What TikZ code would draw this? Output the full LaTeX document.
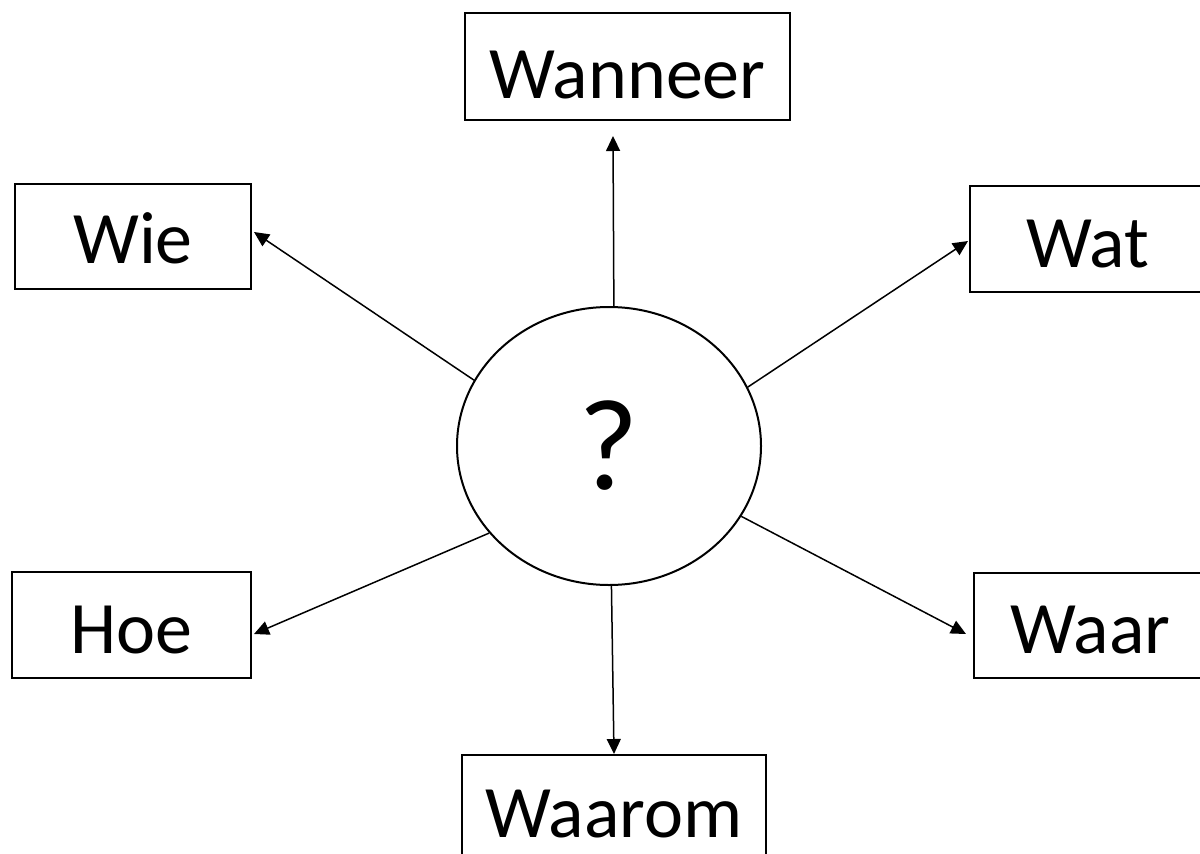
\documentclass[tikz,border=0pt]{standalone}
\usepackage{fontspec}
\setmainfont{Carlito}
\usetikzlibrary{arrows.meta,shapes.geometric}
\tikzset{
  qbox/.style={draw=black, line width=2pt, rectangle, inner sep=0pt, font=\fontsize{74}{74}\selectfont, text depth=0pt},
  hub/.style={draw=black, line width=2pt, ellipse, inner sep=0pt, minimum width=304pt, minimum height=278pt, font=\fontsize{130}{130}\selectfont},
  conn/.style={draw=black, line width=1.5pt, -{Triangle[length=15pt,width=14pt]}}
}
\begin{document}
\begin{tikzpicture}[x=1pt,y=-1pt]
\useasboundingbox (0,0) rectangle (1200,854);
\fill[white] (0,0) rectangle (1200,854);
\clip (0,0) rectangle (1200,854);
\node[hub] (c) at (609,446) {?};
\node[qbox, minimum width=325pt, minimum height=107pt, text height=64pt] (wanneer) at (627.5,66.5) {Wanneer};
\node[qbox, minimum width=236pt, minimum height=105pt, text height=54pt] (wie) at (133,236.5) {Wie};
\node[qbox, minimum width=235pt, minimum height=106pt, text height=57pt] (wat) at (1087.5,239) {Wat};
\node[qbox, minimum width=239pt, minimum height=106pt, text height=57pt] (hoe) at (131.5,625) {Hoe};
\node[qbox, minimum width=233pt, minimum height=105pt, text height=55pt] (waar) at (1090.5,625.5) {Waar};
\node[qbox, minimum width=304pt, minimum height=106pt, text height=58pt] (waarom) at (614,808) {Waarom};
\draw[conn] (c.88.8) -- ([xshift=-14.5pt,yshift=-15pt]wanneer.south);
\draw[conn] (c.154.5) -- ([xshift=2pt,yshift=4.5pt]wie.east);
\draw[conn] (c.23) -- ([xshift=-1pt,yshift=-2pt]wat.west);
\draw[conn] (c.216) -- ([xshift=2pt,yshift=-9pt]hoe.east);
\draw[conn] (c.332) -- ([xshift=-7pt,yshift=-8.5pt]waar.west);
\draw[conn] (c.271.2) -- (waarom.north);
\end{tikzpicture}
\end{document}
